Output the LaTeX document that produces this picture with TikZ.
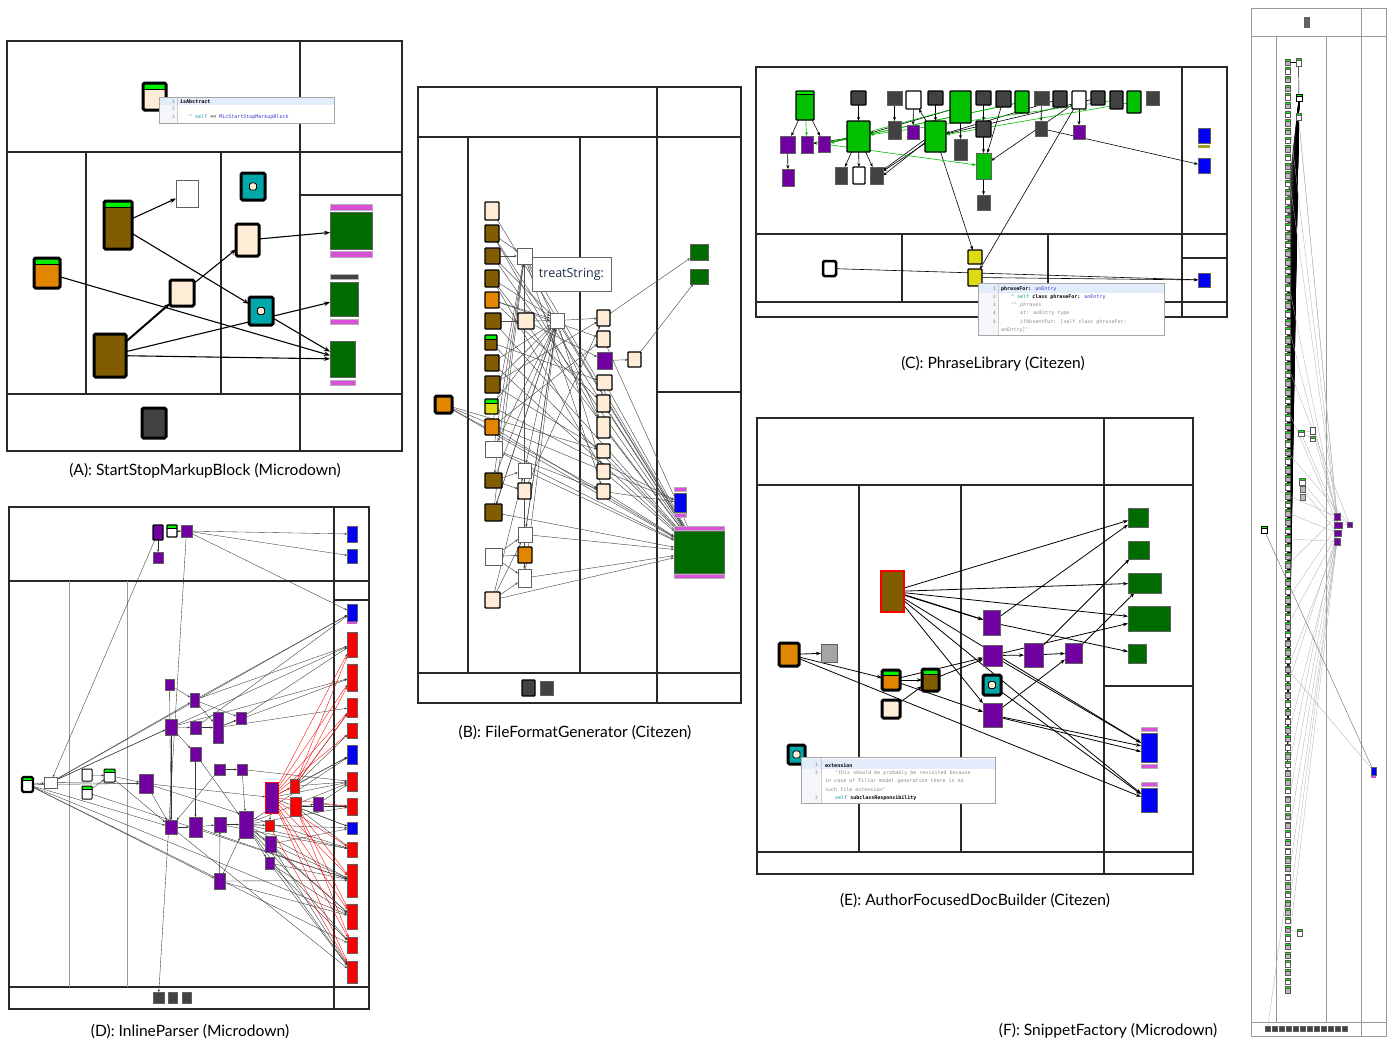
\documentclass[tikz,border=0pt]{standalone}
\usepackage{fontspec}
\setmainfont{Lato}
\newfontfamily\codefont{DejaVu Sans Mono}
\newfontfamily\tipfont{Open Sans}
\usetikzlibrary{arrows.meta}
\pgfdeclarelayer{bg}
\pgfsetlayers{bg,main}
\definecolor{brownN}{RGB}{130,92,0}
\definecolor{orangeN}{RGB}{226,134,0}
\definecolor{creamN}{RGB}{255,236,214}
\definecolor{tealN}{RGB}{0,168,170}
\definecolor{greenD}{RGB}{0,108,0}
\definecolor{greenL}{RGB}{0,192,0}
\definecolor{bandG}{RGB}{0,240,0}
\definecolor{magN}{RGB}{218,80,218}
\definecolor{grayD}{RGB}{66,66,66}
\definecolor{grayM}{RGB}{165,165,165}
\definecolor{purpN}{RGB}{112,0,160}
\definecolor{blueN}{RGB}{0,0,250}
\definecolor{redN}{RGB}{250,0,0}
\definecolor{yelN}{RGB}{222,218,20}
\definecolor{oliveN}{RGB}{160,160,40}
\definecolor{frameC}{RGB}{40,40,40}
\definecolor{gutter}{RGB}{244,246,250}
\definecolor{hiline}{RGB}{226,236,250}
\definecolor{codeTeal}{RGB}{0,150,160}
\definecolor{codeBlue}{RGB}{60,60,200}
\definecolor{codeGray}{RGB}{140,140,140}
\definecolor{tipText}{RGB}{30,45,75}
\newcommand\mybx[6]{\node[#2,minimum width={((#5)-(#3))*1pt},minimum height={((#6)-(#4))*1pt}] (#1) at ({((#3)+(#5))/2},{((#4)+(#6))/2}) {};}
\newcommand\mybar[5]{\filldraw[fill=#1,draw=gray!60,line width=0.4pt] (#2,#3) rectangle (#4,#5);}
\tikzset{
  box/.style={rectangle,inner sep=0pt,outer sep=0pt},
  thk/.style={box,draw=black,line width=3pt,rounded corners=1.5pt},
  med/.style={box,draw=black,line width=1.4pt,rounded corners=0.8pt},
  thn/.style={box,draw=gray!75!black,line width=0.5pt},
  band/.style={path picture={\fill[bandG] (path picture bounding box.north west) rectangle ([yshift=-#1]path picture bounding box.north east);
     \draw[line width=0.5pt] ([yshift=-#1]path picture bounding box.north west) -- ([yshift=-#1]path picture bounding box.north east);}},
  band/.default=6pt,
  tdot/.style={path picture={\draw[fill=creamN,line width=0.9pt] ([shift={(-3.5pt,-3.5pt)}]path picture bounding box.center) rectangle ([shift={(3.5pt,3.5pt)}]path picture bounding box.center);}},
  pframe/.style={draw=frameC,line width=1.2pt},
  gframe/.style={draw=gray!80,line width=0.8pt},
  ea/.style={-{Stealth[length=6pt,width=4.5pt]},line width=1.1pt},
  eb/.style={-{Stealth[length=3pt,width=2.4pt]},line width=0.45pt,draw=black!70},
  ec/.style={-{Stealth[length=4pt,width=3pt]},line width=0.6pt,draw=black},
  ecg/.style={-{Stealth[length=4pt,width=3pt]},line width=0.6pt,draw=greenL},
  ed/.style={-{Stealth[length=2.5pt,width=2pt]},line width=0.35pt,draw=black!80},
  edr/.style={-{Stealth[length=2.5pt,width=2pt]},line width=0.35pt,draw=redN},
  ee/.style={-{Stealth[length=5pt,width=3.6pt]},line width=0.8pt},
  fb/.style={line width=0.45pt,draw=black},
  fg/.style={line width=0.35pt,draw=gray!60},
  fnode/.style={box,draw=gray!70!black,line width=0.3pt,minimum width=5pt,minimum height=6.5pt,band=2pt},
  tipbox/.style={box,fill=white,draw=gray!70,line width=0.6pt},
  code/.style={font=\codefont\fontsize{5}{6}\selectfont,inner sep=0pt,anchor=west},
  lnum/.style={font=\codefont\fontsize{4.5}{5}\selectfont,text=gray,inner sep=0pt,anchor=east},
  captxt/.style={font=\fontsize{15.6}{18}\selectfont,inner sep=0pt}
}
\begin{document}
\begin{tikzpicture}[x=1pt,y=-1pt]
\useasboundingbox (0,0) rectangle (1392,1042);
%================ PANEL A
\mybx{aTop}{thk,fill=creamN,band}{143}{83}{166}{110}
\mybx{aWhite}{thn,fill=white}{176}{180}{198}{207}
\mybx{aTeal1}{thk,fill=tealN,tdot}{241}{173}{265}{200}
\mybx{aBrownG}{thk,fill=brownN,band}{104}{201}{132}{249}
\mybx{aCreamR}{thk,fill=creamN}{236}{224}{259}{256}
\mybar{magN}{330}{204}{372}{210}
\mybx{aGreen1}{thn,fill=greenD}{330}{212}{372}{249}
\mybar{magN}{330}{251}{372}{257}
\mybx{aOrange}{thk,fill=orangeN,band}{34}{258}{60}{288}
\mybx{aCreamC}{thk,fill=creamN}{170}{280}{194}{306}
\mybx{aTeal2}{thk,fill=tealN,tdot}{249}{297}{273}{325}
\mybar{grayD}{330}{274}{358}{279}
\mybx{aGreen2}{thn,fill=greenD}{330}{282}{358}{316}
\mybar{magN}{330}{319}{358}{324}
\mybx{aBrown}{thk,fill=brownN}{94}{334}{126}{377}
\mybx{aGreen3}{thn,fill=greenD}{330}{341}{355}{377}
\mybar{magN}{330}{380}{355}{385}
\mybx{aGray}{thk,fill=grayD}{142}{408}{166}{438}
\begin{pgfonlayer}{bg}
\draw[pframe] (7,41) rectangle (402,451);
\draw[pframe] (7,152) -- (402,152) (7,394) -- (402,394) (300,41) -- (300,451) (86,152) -- (86,394) (221,152) -- (221,394) (300,195) -- (402,195);
\draw[ea] (aBrownG) -- (aWhite);
\draw[ea] (aBrownG) -- (aTeal2);
\draw[ea] (aOrange) -- (aGreen3);
\draw[ea,line width=2pt] (aBrown) -- (aCreamC);
\draw[ea] (aCreamC) -- (aCreamR);
\draw[ea] (aCreamR) -- (aGreen1);
\draw[ea] (aBrown) -- (aGreen2);
\draw[ea] (aBrown) -- (aGreen3);
\draw[ea] (aTeal2) -- (aGreen3);
\end{pgfonlayer}
\node[tipbox,minimum width=175pt,minimum height=26pt] (aTip) at (246.5,110) {};
\fill[gutter] (160,97.5) rectangle (177.5,122.5);
\fill[hiline] (160,98) rectangle (334,104.5);
\draw[gray!40,line width=0.3pt] (177.5,97.5) -- (177.5,122.5);
\node[lnum] (aN1) at (175,101.5) {1};
\node[lnum] (aN2) at (175,109) {2};
\node[lnum] (aN3) at (175,117) {3};
\node[code] (aC1) at (180,101.5) {\textbf{isAbstract}};
\node[code] (aC3) at (189,117) {{\color{codeTeal}\textasciicircum{} self} == {\color{codeBlue}MicStartStopMarkupBlock}};
\node[captxt] (capA) at (205,471) {(A): StartStopMarkupBlock (Microdown)};
%================ PANEL B
\mybx{b1}{med,fill=creamN}{485}{202}{499}{220}
\mybx{b2}{med,fill=brownN}{485}{225}{499}{242}
\mybx{b3}{med,fill=brownN}{485}{248}{500}{264}
\mybx{b4}{med,fill=brownN}{485}{270}{499}{287}
\mybx{b5}{med,fill=orangeN}{485}{292}{499}{308}
\mybx{b6}{med,fill=brownN}{485}{313}{501}{329}
\mybx{b7}{med,fill=brownN,band=4pt}{485}{335}{497}{350}
\mybx{b8}{med,fill=brownN}{485}{355}{499}{371}
\mybx{b9}{med,fill=brownN}{485}{376}{500}{393}
\mybx{b10}{med,fill=yelN,band=4pt}{485}{399}{498}{414}
\mybx{b11}{med,fill=orangeN}{485}{419}{499}{435}
\mybx{b12}{thn,fill=white}{485}{441}{502}{457}
\mybx{b13}{med,fill=brownN}{485}{473}{502}{488}
\mybx{b14}{med,fill=brownN}{485}{504}{502}{521}
\mybx{b15}{thn,fill=white}{485}{548}{502}{565}
\mybx{b16}{med,fill=creamN}{485}{592}{500}{608}
\mybx{b0}{thk,fill=orangeN}{435}{396}{452}{413}
\mybx{c1}{thn,fill=white}{517}{248}{532}{264}
\mybx{c2}{med,fill=creamN}{518}{313}{534}{329}
\mybx{c3}{thn,fill=white}{550}{313}{564}{328}
\mybx{c4}{thn,fill=white}{518}{463}{531}{478}
\mybx{c5}{med,fill=creamN}{518}{483}{531}{499}
\mybx{c6}{thn,fill=white}{518}{527}{532}{542}
\mybx{c7}{med,fill=orangeN}{518}{547}{532}{563}
\mybx{c8}{thn,fill=white}{518}{569}{531}{587}
\mybx{d1}{med,fill=creamN}{597}{310}{610}{326}
\mybx{d2}{med,fill=creamN}{597}{331}{610}{347}
\mybx{d3}{thn,fill=purpN}{597}{352}{612}{369}
\mybx{d4}{med,fill=creamN}{597}{375}{612}{390}
\mybx{d5}{med,fill=creamN}{597}{395}{610}{412}
\mybx{d6}{med,fill=creamN}{597}{417}{610}{438}
\mybx{d7}{med,fill=creamN}{597}{444}{610}{458}
\mybx{d8}{med,fill=creamN}{597}{464}{610}{479}
\mybx{d9}{med,fill=creamN}{597}{484}{610}{499}
\mybx{e1}{med,fill=creamN}{628}{352}{641}{367}
\mybx{g1}{thn,fill=greenD}{690}{244}{708}{260}
\mybx{g2}{thn,fill=greenD}{690}{269}{708}{284}
\mybar{magN}{674}{487}{686}{491}
\mybx{bl}{thn,fill=blueN}{674}{493}{686}{512}
\mybar{magN}{674}{513}{686}{517}
\mybar{magN}{674}{526}{724}{530}
\mybx{bg}{thn,fill=greenD}{674}{531}{724}{573}
\mybar{magN}{674}{574}{724}{578}
\mybx{bk1}{med,fill=grayD}{522}{680}{535}{696}
\mybx{bk2}{thn,fill=grayD}{540}{681}{553}{695}
\begin{pgfonlayer}{bg}
\draw[pframe] (418,87) rectangle (741,703);
\draw[pframe] (418,137) -- (741,137) (418,673) -- (741,673) (657,87) -- (657,703) (468,137) -- (468,673) (580,137) -- (580,673) (657,392) -- (741,392);
\foreach \s/\t in {b2/c1,b3/c1,b3/c3,b2/bg,b3/bg,b4/bg,b4/c3,b5/c3,b5/d2,b6/c2,c2/c3,c2/d3,c3/d1,c3/bg,c1/d6,c1/bg,b6/bg,b7/d4,b8/c3,b8/bg,b9/d1,b9/c3,b10/c3,b11/c1,b11/d2,b12/c1,b12/bg,b13/c4,b13/c5,b13/c3,b14/c1,b14/c3,b14/bg,b15/c6,b15/c7,b15/c8,b16/c6,b16/bg,b16/c4,c4/bg,c5/d1,c6/c3,c6/bg,c8/c3,c8/bg,b0/d7,b0/d9,b0/bl,b0/bg,d1/g1,d3/e1,e1/g2,d4/bg,d5/bg,d6/bg,d7/bg,d8/bg,d9/bg,d2/bg,d9/bl,b10/bl,b1/bg,c3/b12,c3/b14,c3/c4,c3/c6,c1/b13,c1/c8,b11/bg,b4/d8,b2/d6,b5/d5,b9/d7,c1/d9,c3/d8,b7/bg,b12/d9,b16/c8}
  \draw[eb] (\s) -- (\t);
\end{pgfonlayer}
\node[box,fill=white,draw=gray!80!black,line width=0.7pt,minimum width=79pt,minimum height=34pt,font=\tipfont\fontsize{12.5}{14}\selectfont,text=tipText] (bTip) at (571.5,274) {treatString:};
\node[captxt] (capB) at (575,733) {(B): FileFormatGenerator (Citezen)};
%================ PANEL C
\mybx{t1}{med,fill=greenL,band=3pt}{796}{91}{814}{120}
\mybx{t2}{med,fill=grayD}{851}{91}{866}{105}
\mybx{t3}{thn,fill=grayD}{887}{91}{902}{105}
\mybx{t4}{med,fill=white}{906}{91}{921}{109}
\mybx{t5}{med,fill=grayD}{928}{91}{943}{105}
\mybx{t6}{med,fill=greenL}{950}{91}{971}{123}
\mybx{t7}{med,fill=grayD}{976}{91}{991}{105}
\mybx{t8}{med,fill=grayD}{996}{91}{1011}{107}
\mybx{t9}{med,fill=greenL}{1015}{91}{1029}{113}
\mybx{t10}{thn,fill=grayD}{1034}{91}{1049}{105}
\mybx{t11}{med,fill=grayD}{1053}{91}{1067}{107}
\mybx{t12}{med,fill=white}{1072}{91}{1086}{109}
\mybx{t13}{med,fill=grayD}{1091}{91}{1105}{105}
\mybx{t14}{med,fill=grayD}{1110}{91}{1123}{109}
\mybx{t15}{med,fill=greenL}{1127}{91}{1141}{113}
\mybx{t16}{thn,fill=grayD}{1146}{91}{1159}{105}
\mybx{p1}{thn,fill=purpN}{780}{136}{795}{153}
\mybx{p2}{thn,fill=purpN}{801}{136}{813}{153}
\mybx{p3}{thn,fill=purpN}{818}{136}{830}{152}
\mybx{G1}{med,fill=greenL}{847}{121}{870}{152}
\mybx{s1}{thn,fill=grayD}{888}{121}{901}{139}
\mybx{p4}{thn,fill=purpN}{907}{125}{919}{139}
\mybx{G2}{med,fill=greenL}{925}{121}{946}{152}
\mybx{s2}{thn,fill=grayD}{954}{139}{967}{160}
\mybx{s3}{med,fill=grayD}{976}{121}{991}{137}
\mybx{s4}{thn,fill=grayD}{1035}{121}{1047}{136}
\mybx{p5}{thn,fill=purpN}{1073}{125}{1085}{139}
\mybx{p6}{thn,fill=purpN}{782}{169}{794}{186}
\mybx{s5}{thn,fill=grayD}{835}{167}{847}{184}
\mybx{w1}{med,fill=white}{853}{167}{865}{184}
\mybx{s6}{thn,fill=grayD}{870}{167}{883}{184}
\mybx{G3}{thn,fill=greenL}{976}{153}{991}{179}
\mybx{s7}{thn,fill=grayD}{977}{195}{990}{210}
\mybx{cb1}{thn,fill=blueN}{1198}{128}{1210}{143}
\fill[oliveN] (1198,145) rectangle (1210,148);
\mybx{cb2}{thn,fill=blueN}{1198}{158}{1210}{173}
\mybx{cb3}{thn,fill=blueN}{1198}{273}{1210}{287}
\mybx{cw}{thk,line width=2.5pt,fill=white}{823}{261}{836}{276}
\mybx{y1}{med,fill=yelN}{968}{250}{982}{264}
\mybx{y2}{med,fill=yelN}{968}{269}{982}{286}
\begin{pgfonlayer}{bg}
\draw[pframe] (756,67) rectangle (1227,317);
\draw[pframe] (756,234) -- (1227,234) (756,302) -- (1227,302) (1182,67) -- (1182,317) (902,234) -- (902,302) (1048,234) -- (1048,302) (1182,258) -- (1227,258);
\foreach \s/\t in {t1/p1,t1/p3,p1/p6,t2/G1,G1/s5,G1/w1,G1/s6,G1/p3,G1/p2,t3/s1,G2/t4,t4/p4,t5/G2,G2/s6,G2/y1,t6/s2,t7/s3,s3/G3,t8/G3,G3/s7,t12/G3,t12/y2,t12/p5,t10/s4,s4/cb2,cw/cb3,y2/cb3,t11/G2,t13/G2,t6/G1}
  \draw[ec] (\s) -- (\t);
\draw[ec] ([yshift=-3pt]G2.west) -- ([yshift=-3pt]s6.north east);
\draw[ec] ([yshift=-6pt]G2.west) -- (s6.east);
\foreach \s/\t in {t1/p2,t6/p3,t9/p3,t15/G2,p3/G3,t9/G1,t14/G1}
  \draw[ecg] (\s) -- (\t);
\end{pgfonlayer}
\node[tipbox,minimum width=186pt,minimum height=52pt] (cTip) at (1071,309) {};
\fill[gutter] (978.5,283.5) rectangle (998.5,334.5);
\fill[hiline] (978.5,284) rectangle (1163.5,292.5);
\draw[gray!40,line width=0.3pt] (998.5,283.5) -- (998.5,334.5);
\begin{scope}[every node/.append style={font=\codefont\fontsize{5.3}{6}\selectfont}]
\node[lnum] (cN1) at (996,289) {1};
\node[lnum] (cN2) at (996,297.3) {2};
\node[lnum] (cN3) at (996,305.3) {3};
\node[lnum] (cN4) at (996,313.3) {4};
\node[lnum] (cN5) at (996,321.7) {5};
\node[code] (cC1) at (1001,289) {\textbf{phraseFor:} {\color{codeBlue}anEntry}};
\node[code] (cC2) at (1011,297.3) {{\color{codeTeal}\textasciicircum{} self} \textbf{class phraseFor:} {\color{codeBlue}anEntry}};
\node[code,text=codeGray] (cC3) at (1011,305.3) {"\textasciicircum{} phrases};
\node[code,text=codeGray] (cC4) at (1020,313.3) {at: anEntry type};
\node[code,text=codeGray] (cC5) at (1020,321.7) {ifAbsentPut: [self class phraseFor:};
\node[code,text=codeGray] (cC6) at (1001,330) {anEntry]"};
\end{scope}
\node[captxt] (capC) at (993,364) {(C): PhraseLibrary (Citezen)};
%================ PANEL D
\mybx{q1}{med,fill=purpN}{153}{525}{163}{540}
\mybx{q2}{med,fill=white,band=3pt}{167}{525}{177}{537}
\mybx{q3}{thn,fill=purpN}{181}{525}{192}{537}
\mybx{q4}{thn,fill=purpN}{153}{552}{163}{563}
\mybx{r1}{thn,fill=blueN}{347}{526}{357}{542}
\mybx{r2}{thn,fill=blueN}{347}{549}{357}{563}
\mybx{r3}{thn,fill=blueN}{347}{604}{357}{621}
\fill[magN] (347,622) rectangle (357,624);
\mybx{r4}{thn,fill=redN}{347}{632}{357}{657}
\mybx{r5}{thn,fill=redN}{347}{664}{357}{691}
\mybx{r6}{thn,fill=redN}{347}{698}{357}{717}
\mybx{r7}{thn,fill=redN}{347}{723}{357}{738}
\mybx{r8}{thn,fill=blueN}{347}{745}{357}{764}
\mybx{r9}{thn,fill=redN}{347}{772}{357}{791}
\mybx{r10}{thn,fill=redN}{347}{798}{357}{815}
\mybx{r11}{thn,fill=blueN}{347}{822}{357}{834}
\mybx{r12}{thn,fill=redN}{347}{842}{357}{857}
\mybx{r13}{thn,fill=redN}{347}{864}{357}{897}
\mybx{r14}{thn,fill=redN}{347}{904}{357}{929}
\mybx{r15}{thn,fill=redN}{347}{937}{357}{953}
\mybx{r16}{thn,fill=redN}{347}{961}{357}{983}
\mybx{m1}{thn,fill=purpN}{165}{679}{174}{690}
\mybx{m2}{thn,fill=purpN}{190}{693}{199}{707}
\mybx{m3}{thn,fill=purpN}{165}{719}{177}{735}
\mybx{m4}{thn,fill=purpN}{190}{721}{201}{734}
\mybx{m5}{thn,fill=purpN}{213}{712}{223}{743}
\mybx{m6}{thn,fill=purpN}{236}{712}{246}{724}
\mybx{m7}{thn,fill=purpN}{190}{747}{201}{761}
\mybx{m8}{thn,fill=purpN}{214}{764}{225}{775}
\mybx{m9}{thn,fill=purpN}{237}{764}{247}{775}
\mybx{L1}{thk,line width=2.2pt,fill=white,band=3pt}{22}{777}{33}{792}
\mybx{L2}{thn,fill=white}{44}{777}{57}{788}
\mybx{L3}{med,line width=1pt,fill=white}{82}{769}{92}{781}
\mybx{L4}{med,line width=1pt,fill=white,band=3pt}{104}{769}{115}{782}
\mybx{L5}{med,line width=1pt,fill=white,band=3pt}{82}{786}{92}{799}
\mybx{m10}{thn,fill=purpN}{139}{774}{153}{793}
\mybx{m11}{box,draw=redN,line width=0.6pt,fill=purpN}{265}{782}{278}{813}
\mybx{x1}{thn,fill=redN}{290}{779}{299}{793}
\mybx{x2}{thn,fill=redN}{290}{797}{301}{816}
\mybx{m12}{thn,fill=purpN}{313}{797}{323}{811}
\mybx{m13}{thn,fill=purpN}{165}{820}{177}{834}
\mybx{m14}{thn,fill=purpN}{189}{817}{202}{837}
\mybx{m15}{thn,fill=purpN}{214}{817}{226}{832}
\mybx{m16}{thn,fill=purpN}{239}{811}{253}{838}
\mybx{x3}{thn,fill=redN}{265}{820}{274}{831}
\mybx{m17}{thn,fill=purpN}{265}{836}{276}{852}
\mybx{m18}{thn,fill=purpN}{265}{857}{274}{869}
\mybx{m19}{thn,fill=purpN}{214}{873}{225}{889}
\mybx{dk1}{thn,fill=grayD}{153}{992}{164}{1003}
\mybx{dk2}{thn,fill=grayD}{168}{992}{177}{1003}
\mybx{dk3}{thn,fill=grayD}{182}{992}{191}{1003}
\begin{pgfonlayer}{bg}
\draw[pframe] (9,507) rectangle (369,1009);
\draw[pframe] (9,581) -- (369,581) (9,987) -- (369,987) (334,507) -- (334,1009) (334,600) -- (369,600);
\draw[gframe] (69,581) -- (69,987) (127,581) -- (127,987);
\foreach \s/\t in {q1/q4,q2/q3,q3/r1,q3/r2,q3/r3,q1/L2,q3/dk1,L1/L2,L1/m10,L1/m13,L1/m19,L1/r14,L1/r15,L2/m2,L2/m3,L2/r3,L2/r4,L2/m10,L3/L4,L5/L4,L4/m10,L4/m13,L5/r13,m10/m11,m10/m13,m10/r12,m1/m2,m1/m13,m2/m5,m2/m6,m2/r3,m2/r4,m3/m4,m4/m5,m5/m6,m3/m7,m3/m13,m3/r5,m7/m14,m7/m16,m8/m9,m8/m13,m9/r9,m9/m16,m13/m14,m14/m15,m15/m16,m16/x3,m16/m17,m16/m18,m16/r9,m16/r10,m16/r12,m16/r13,m16/r14,m16/r15,m16/r16,m19/m15,m19/m16,m19/r13,m19/r14,m12/r9,m12/r10,x1/r9,x1/r8,x2/r10,x2/m12,m11/x3,m17/r13,m17/r16,m18/r14,m18/r15,m18/r16,m17/r11,m5/r5,m5/r6,m6/r4,m14/r13,m15/r12,m13/r16,m11/r8,m11/r9,m11/r11,x2/r12,x1/r7,m4/r3,m16/r11,m17/r14,m18/r13,m16/r8,x2/r11,x1/r6}
  \draw[ed] (\s) -- (\t);
\foreach \s/\t in {m11/r4,m11/r5,m11/r6,m11/r7,m11/r12,m11/r13,m11/r14,m11/r15,m11/r16,x1/r5,x1/r6,x2/r13,x2/r15,x3/r16,m11/r10,x2/r14,m11/x1,x1/r4}
  \draw[edr] (\s) -- (\t);
\end{pgfonlayer}
\node[captxt] (capD) at (190,1032) {(D): InlineParser (Microdown)};
%================ PANEL E
\mybx{eBrown}{box,draw=redN,line width=2.5pt,fill=brownN}{881}{571}{904}{612}
\mybx{eOrange}{thk,fill=orangeN}{779}{643}{799}{666}
\mybx{eGray}{thn,fill=grayM}{821}{644}{837}{662}
\mybx{eOG}{thk,fill=orangeN,band=5pt}{882}{670}{900}{690}
\mybx{eBG}{thk,fill=brownN,band=5pt}{922}{669}{939}{691}
\mybx{eCream}{thk,fill=creamN}{882}{700}{900}{718}
\mybx{eP1}{thn,fill=purpN}{983}{610}{1000}{635}
\mybx{eP2}{thn,fill=purpN}{983}{645}{1002}{666}
\mybx{eP3}{thn,fill=purpN}{1024}{643}{1043}{667}
\mybx{eP4}{thn,fill=purpN}{1065}{643}{1082}{663}
\mybx{eTeal}{thk,fill=tealN,tdot}{983}{675}{1001}{695}
\mybx{eP5}{thn,fill=purpN}{983}{703}{1002}{727}
\mybx{eTeal2}{thk,fill=tealN,tdot}{788}{745}{805}{764}
\mybx{eG1}{thn,fill=greenD}{1128}{508}{1148}{527}
\mybx{eG2}{thn,fill=greenD}{1128}{541}{1149}{559}
\mybx{eG3}{thn,fill=greenD}{1128}{573}{1161}{593}
\mybx{eG4}{thn,fill=greenD}{1128}{606}{1170}{631}
\mybx{eG5}{thn,fill=greenD}{1128}{644}{1146}{663}
\mybar{magN}{1141}{727}{1157}{731}
\mybx{eB1}{thn,fill=blueN}{1141}{733}{1157}{762}
\mybar{magN}{1141}{764}{1157}{768}
\mybar{magN}{1141}{782}{1157}{786}
\mybx{eB2}{thn,fill=blueN}{1141}{788}{1157}{812}
\begin{pgfonlayer}{bg}
\draw[pframe] (757,418) rectangle (1193,874);
\draw[pframe] (757,485) -- (1193,485) (757,852) -- (1193,852) (1104,418) -- (1104,874) (859,485) -- (859,852) (961,485) -- (961,852) (1104,686) -- (1193,686);
\foreach \s/\t in {eBrown/eG1,eBrown/eG3,eBrown/eG4,eBrown/eP1,eBrown/eP5,eBrown/eB1,eBrown/eB2,eP1/eG1,eP1/eG5,eP2/eP3,eP3/eP4,eP3/eG2,eP4/eG3,eP2/eG4,eP2/eB1,eP5/eP4,eP5/eB1,eTeal/eB2,eOrange/eGray,eOrange/eOG,eOrange/eB2,eOG/eBG,eOG/eP5,eOG/eP2,eBG/eP2,eCream/eBG}
  \draw[ee] (\s) -- (\t);
\draw[ee] ([yshift=-3pt]eBrown.east) -- ([yshift=3pt]eP1.west);
\draw[ee] ([yshift=-3pt]eP5.east) -- ([yshift=-4pt]eB1.west);
\end{pgfonlayer}
\node[tipbox,minimum width=194pt,minimum height=45.6pt] (eTip) at (898.7,780.5) {};
\fill[gutter] (802.2,758.2) rectangle (821.5,802.8);
\fill[hiline] (802.2,758.7) rectangle (995.2,768.5);
\draw[gray!40,line width=0.3pt] (821.5,758.2) -- (821.5,802.8);
\begin{scope}[every node/.append style={font=\codefont\fontsize{5.5}{6}\selectfont}]
\node[lnum] (eN1) at (818,765) {1};
\node[lnum] (eN2) at (818,772.7) {2};
\node[lnum] (eN3) at (818,797.7) {3};
\node[code] (eC1) at (825,765) {\textbf{extension}};
\node[code,text=codeGray] (eC2) at (835,772.7) {"this should be probably be revisited because};
\node[code,text=codeGray] (eC3) at (825,781) {in case of Pillar model generation there is no};
\node[code,text=codeGray] (eC4) at (825,789.3) {such file extension"};
\node[code] (eC5) at (835,797.7) {{\color{codeTeal}self} \textbf{subclassResponsibility}};
\end{scope}
\node[captxt] (capE) at (975,901) {(E): AuthorFocusedDocBuilder (Citezen)};
%================ PANEL F
\foreach \i in {0,...,107}{
  \pgfmathsetmacro\yy{62+\i*8.67}
  \pgfmathtruncatemacro\ww{(mod(\i*7+3,5)<2) ? 1 : 0}
  \ifnum\ww=1\relax
    \node[fnode,fill=white] (f\i) at (1287.5,\yy) {};
  \else
    \node[fnode,fill=gray!55] (f\i) at (1287.5,\yy) {};
  \fi
}
\mybx{fg1}{fnode,fill=white}{1296}{58}{1301}{66}
\mybx{fg2}{fnode,draw=black,line width=0.6pt,fill=white}{1296}{94}{1302}{101}
\mybx{fg3}{fnode,fill=white}{1296}{113}{1301}{120}
\mybx{fg4}{fnode,fill=white}{1298}{430}{1304}{436}
\mybx{fg5}{thn,draw=black!70,fill=white}{1310}{427}{1315}{434}
\mybx{fg6}{fnode,fill=white}{1310}{436}{1315}{441}
\mybx{fg7}{fnode,fill=white}{1299}{478}{1305}{485}
\mybx{fg8}{thn,fill=gray!55}{1300}{486}{1305}{492}
\mybx{fg9}{thn,fill=gray!55}{1300}{494}{1305}{500}
\mybx{fg10}{fnode,fill=white}{1297}{929}{1302}{936}
\mybx{fh1}{thn,draw=black,line width=0.7pt,fill=white,band=2pt}{1261}{526}{1267}{533}
\mybx{fu1}{thn,fill=purpN}{1334}{513}{1340}{520}
\mybx{fu2}{thn,fill=purpN}{1334}{522}{1342}{528}
\mybx{fu3}{thn,fill=purpN}{1347}{522}{1352}{527}
\mybx{fu4}{thn,fill=purpN}{1334}{530}{1341}{536}
\mybx{fu5}{thn,fill=purpN}{1334}{538}{1340}{545}
\mybx{fv1}{thn,fill=blueN}{1371}{767}{1376}{775}
\fill[magN] (1371,776) rectangle (1376,778);
\mybx{fhd}{thn,fill=grayM!60!black}{1304}{17}{1309}{27}
\foreach \k in {0,...,11}{
  \mybx{fs\k}{thn,fill=grayD}{1265+\k*7}{1026.5}{1270+\k*7}{1031}
}
\begin{pgfonlayer}{bg}
\draw[gframe] (1251,8) rectangle (1386,1036);
\draw[gframe] (1251,36) -- (1386,36) (1251,1022) -- (1386,1022) (1361,8) -- (1361,1036) (1276,36) -- (1276,1022) (1326,36) -- (1326,1022);
\draw[fb] (fg1) -- (fg2);
\draw[fb] (fg1) -- (f0);
\foreach \j in {16,17,...,82}
  \draw[fb] (fg2) -- (f\j);
\foreach \j in {30,40,50,60,70,74}
  \draw[fb] (fg3) -- (f\j);
\foreach \j/\u in {5/fu1,12/fu2,30/fu1,40/fu2,52/fu4,55/fu5,58/fu1,62/fu2,65/fu4,70/fu5,72/fu4,78/fu5,82/fu2,86/fu4,90/fu5,95/fu5,99/fu4,103/fu5,45/fu3,50/fu1,35/fu3,25/fu2}
  \draw[fg] (f\j) -- (\u);
\foreach \s/\t in {fg4/fu1,fg5/fu1,fg7/fu2,fg8/fu4,fg3/fu1,fg3/fu2,fg4/fg5,fg4/fg6,fg7/fg8,fs0/f95,f70/fv1,fu1/fu3,fu2/fu3,fg10/f100}
  \draw[fg] (\s) -- (\t);
\draw[line width=0.4pt,draw=gray!80!black] (fh1) -- (fv1);
\end{pgfonlayer}
\node[captxt] (capF) at (1108,1031) {(F): SnippetFactory (Microdown)};
\end{tikzpicture}
\end{document}
